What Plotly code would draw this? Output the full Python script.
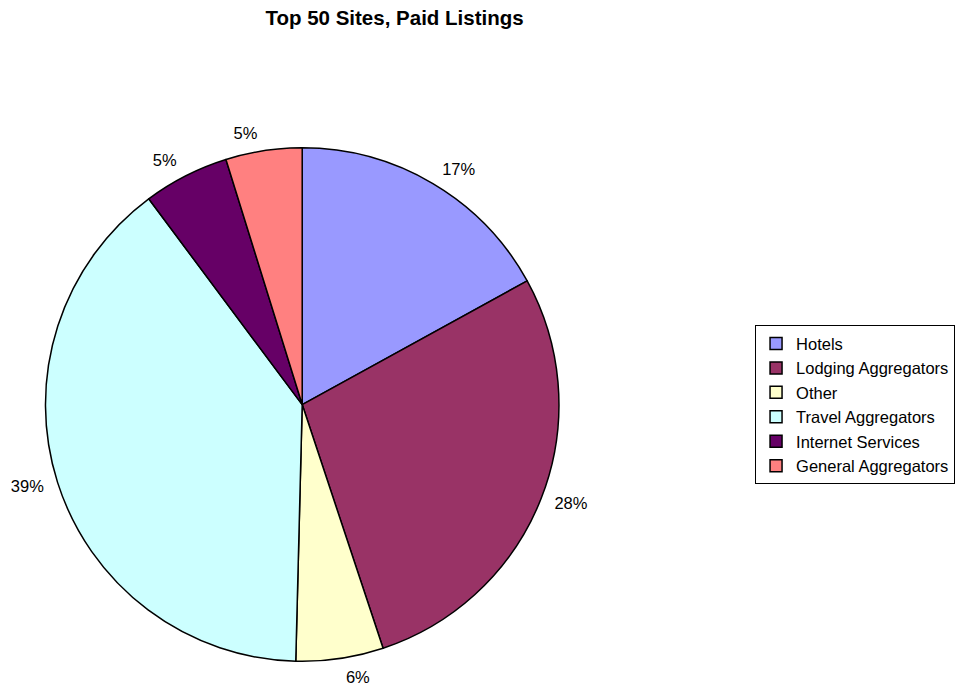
import plotly.graph_objects as go

categories = ["Hotels", "Lodging Aggregators", "Other", "Travel Aggregators",
              "Internet Services", "General Aggregators"]
values = [17.0, 27.9, 5.5, 39.4, 5.4, 4.8]
colors = ["#9999FF", "#993366", "#FFFFCC", "#CCFFFF", "#660066", "#FF8080"]

FONT = "Liberation Sans, Arial, sans-serif"

# visible pie (no text)
pie = go.Pie(
    labels=categories,
    values=values,
    sort=False,
    direction="clockwise",
    rotation=0,
    marker=dict(colors=colors, line=dict(color="black", width=1.5)),
    textinfo="none",
    hoverinfo="label+percent",
    domain=dict(x=[0.0393, 0.5843], y=[0.0289, 0.7829]),
)

# transparent companion pie, slightly larger, carrying the percentage labels
labels_pie = go.Pie(
    labels=categories,
    values=values,
    sort=False,
    direction="clockwise",
    rotation=0,
    marker=dict(colors=["rgba(0,0,0,0)"] * len(categories), line=dict(width=0)),
    texttemplate="%{percent:.0%}",
    textposition="outside",
    textfont=dict(family=FONT, size=16.5, color="black"),
    hoverinfo="skip",
    showlegend=False,
    domain=dict(x=[0.0294, 0.5943], y=[0.0151, 0.7965]),
)

fig = go.Figure([pie, labels_pie])

fig.update_layout(
    width=956, height=691,
    paper_bgcolor="white", plot_bgcolor="white",
    margin=dict(l=0, r=0, t=0, b=0),
    font=dict(family=FONT, size=16.5, color="black"),
    title=dict(text="<b>Top 50 Sites, Paid Listings</b>", x=0.4127, xanchor="center",
               y=0.974, yanchor="middle", font=dict(size=20.5)),
    legend=dict(x=0.999, y=0.5224, xanchor="right", yanchor="top",
                bordercolor="black", borderwidth=1, bgcolor="white",
                font=dict(size=16.5), traceorder="normal"),
)

fig.write_html("out.html", config={"displayModeBar": False},
               post_script="document.body.style.margin='0';")
